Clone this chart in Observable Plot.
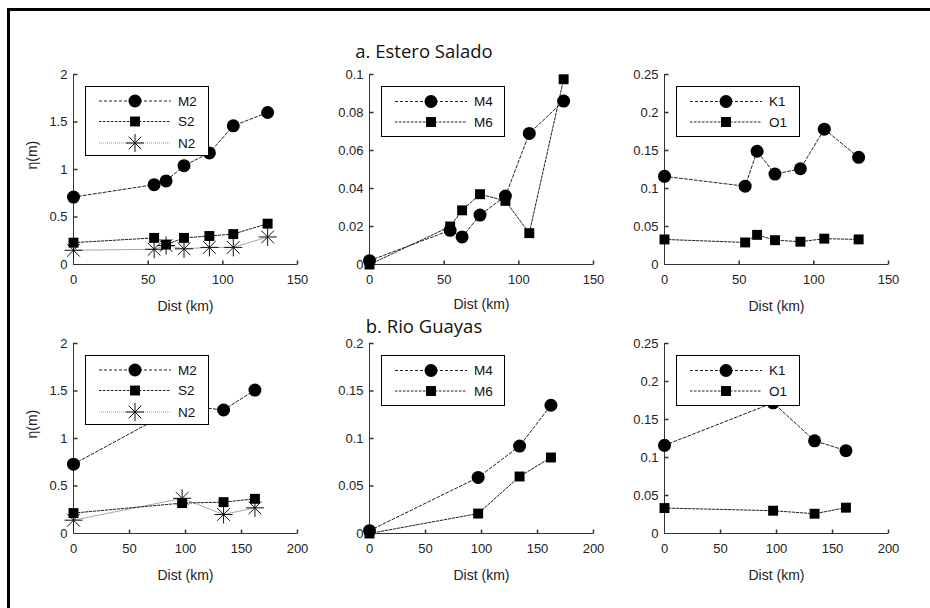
<!DOCTYPE html>
<html><head><meta charset="utf-8">
<script src="https://cdn.jsdelivr.net/npm/d3@7"></script>
<script src="https://cdn.jsdelivr.net/npm/@observablehq/plot@0.6"></script>
<style>
html,body{margin:0;padding:0;background:#fff;overflow:hidden;}
#page{position:relative;width:930px;height:608px;overflow:hidden;background:#fff;font-family:"Liberation Sans",Arial,sans-serif;}
#frame{position:absolute;left:7px;top:8px;width:1000px;height:1000px;border-top:3px solid #000;border-left:3px solid #000;}
.panel{position:absolute;}
.panel svg{position:absolute;left:0;top:0;overflow:visible;}
</style></head><body><div id="page"><div id="frame"></div></div>
<script>
// ---- data ----
const distA = [0, 54, 62, 74, 91, 107, 130];
const distB = [0, 97, 134, 162];
const M2a = [0.71, 0.84, 0.88, 1.04, 1.175, 1.46, 1.60];
const S2a = [0.23, 0.28, 0.21, 0.28, 0.30, 0.32, 0.43];
const N2a = [0.15, 0.16, 0.20, 0.165, 0.18, 0.18, 0.29];
const M4a = [0.002, 0.018, 0.0145, 0.026, 0.036, 0.069, 0.086];
const M6a = [0, 0.020, 0.0285, 0.037, 0.0335, 0.0165, 0.0975];
const K1a = [0.116, 0.103, 0.149, 0.119, 0.126, 0.178, 0.141];
const O1a = [0.033, 0.029, 0.039, 0.032, 0.030, 0.034, 0.033];
const M2b = [0.73, 1.35, 1.30, 1.51];
const S2b = [0.215, 0.32, 0.33, 0.365];
const N2b = [0.14, 0.37, 0.20, 0.27];
const M4b = [0.003, 0.059, 0.092, 0.135];
const M6b = [0, 0.021, 0.060, 0.080];
const K1b = [0.116, 0.172, 0.122, 0.109];
const O1b = [0.0335, 0.030, 0.026, 0.034];
const xTicksA = [0, 50, 100, 150];
const xTicksB = [0, 50, 100, 150, 200];
const yTicksSemi = [0, 0.5, 1, 1.5, 2];
const yTicksOverA = [0, 0.02, 0.04, 0.06, 0.08, 0.1];
const yTicksOverB = [0, 0.05, 0.1, 0.15, 0.2];
const yTicksDiurnal = [0, 0.05, 0.1, 0.15, 0.2, 0.25];
const titles = ["a. Estero Salado", "b. Rio Guayas"];
const xLabel = "Dist (km)";
const yLabel = "η(m)";

// ---- symbols ----
const star = {draw(ctx, size){ const r = Math.sqrt(size/Math.PI); const d = r*Math.SQRT1_2;
  ctx.moveTo(-r,0);ctx.lineTo(r,0);ctx.moveTo(0,-r);ctx.lineTo(0,r);
  ctx.moveTo(-d,-d);ctx.lineTo(d,d);ctx.moveTo(-d,d);ctx.lineTo(d,-d);}};
const tickUp = {draw(ctx){ctx.moveTo(0,0);ctx.lineTo(0,-4);}};
const tickRight = {draw(ctx){ctx.moveTo(0,0);ctx.lineTo(4,0);}};

const kinds = {
  circle: {symbol: "circle", r: 6.5, fill: "#000", stroke: "none", line: "#222", dash: "3,2"},
  square: {symbol: "square", r: 5.6, fill: "#000", stroke: "none", line: "#222", dash: "2.5,1.5"},
  star:   {symbol: star, r: 9, fill: "none", stroke: "#111", line: "#999", dash: "1,1"}
};

const panels = [
  {left:73, top:74, xMax:150, xTicks:xTicksA, yMax:2, yTicks:yTicksSemi, x:distA, ylabel:true,
   series:[["M2",M2a,"circle"],["S2",S2a,"square"],["N2",N2a,"star"]]},
  {left:369, top:74, xMax:150, xTicks:xTicksA, yMax:0.1, yTicks:yTicksOverA, x:distA, labelDy:40,
   series:[["M4",M4a,"circle"],["M6",M6a,"square"]]},
  {left:664, top:74, xMax:150, xTicks:xTicksA, yMax:0.25, yTicks:yTicksDiurnal, x:distA,
   series:[["K1",K1a,"circle"],["O1",O1a,"square"]]},
  {left:73, top:343, xMax:200, xTicks:xTicksB, yMax:2, yTicks:yTicksSemi, x:distB, ylabel:true,
   series:[["M2",M2b,"circle"],["S2",S2b,"square"],["N2",N2b,"star"]]},
  {left:369, top:343, xMax:200, xTicks:xTicksB, yMax:0.2, yTicks:yTicksOverB, x:distB,
   series:[["M4",M4b,"circle"],["M6",M6b,"square"]]},
  {left:664, top:343, xMax:200, xTicks:xTicksB, yMax:0.25, yTicks:yTicksDiurnal, x:distB,
   series:[["K1",K1b,"circle"],["O1",O1b,"square"]]}
];

const ml=70, mr=20, mt=20, mb=50, fw=224, fh=190;
const page = document.getElementById("page");

for (const p of panels) {
  const marks = [
    Plot.ruleX([0], {stroke:"#333", strokeWidth:1}),
    Plot.ruleY([0], {stroke:"#333", strokeWidth:1}),
    Plot.dot(p.xTicks.slice(1), {x:d=>d, frameAnchor:"bottom", symbol:tickUp, stroke:"#333", fill:"none"}),
    Plot.dot(p.yTicks.slice(1), {y:d=>d, frameAnchor:"left", symbol:tickRight, stroke:"#333", fill:"none"}),
    Plot.axisX({ticks:p.xTicks, tickSize:0, tickPadding:10, tickFormat:d=>String(d), label:null, fontSize:13}),
    Plot.axisY({ticks:p.yTicks, tickSize:0, tickPadding:6, tickFormat:d=>String(d), label:null, fontSize:13}),
    Plot.text([xLabel], {frameAnchor:"bottom", dy:p.labelDy || 42, text:d=>d, fontSize:14, lineAnchor:"middle"})
  ];
  if (p.ylabel) marks.push(Plot.text([yLabel], {frameAnchor:"left", dx:-41, rotate:-90, text:d=>d, fontSize:14, lineAnchor:"middle"}));
  const tables = p.series.map(([name, vals, kind]) => ({name, kind, data: p.x.map((d,i)=>({x:d, y:vals[i]}))}));
  for (const t of tables.slice().reverse()) {
    const k = kinds[t.kind];
    marks.push(Plot.line(t.data, {x:"x", y:"y", stroke:k.line, strokeWidth:1, strokeDasharray:k.dash}));
  }
  for (const t of tables.slice().reverse()) {
    const k = kinds[t.kind];
    marks.push(Plot.dot(t.data, {x:"x", y:"y", symbol:k.symbol, r:k.r, fill:k.fill, stroke:k.stroke, strokeWidth:1}));
  }
  const chart = Plot.plot({
    width: fw+ml+mr, height: fh+mt+mb,
    marginLeft: ml, marginRight: mr, marginTop: mt, marginBottom: mb,
    x: {domain:[0, p.xMax]}, y: {domain:[0, p.yMax]},
    style: {fontFamily:'"Liberation Sans", Arial, sans-serif', fontSize:"13px", color:"#222", background:"transparent", overflow:"visible"},
    marks
  });
  const wrap = document.createElement("div");
  wrap.className = "panel";
  wrap.style.left = (p.left - ml) + "px";
  wrap.style.top = (p.top - mt) + "px";
  wrap.style.width = (fw+ml+mr) + "px";
  wrap.style.height = (fh+mt+mb) + "px";
  wrap.appendChild(chart);

  // legend box
  const n = p.series.length;
  const lw = 123, lh = n === 3 ? 69 : 50;
  const rows = n === 3 ? [14.5, 35, 56.5] : [15, 35.5];
  const lg = d3.create("svg").attr("width", lw+2).attr("height", lh+2)
    .style("left", (ml+12)+"px").style("top", (mt+12)+"px");
  lg.append("rect").attr("x",0.5).attr("y",0.5).attr("width",lw).attr("height",lh)
    .attr("fill","#fff").attr("stroke","#000").attr("stroke-width",1);
  p.series.forEach(([name, vals, kind], i) => {
    const k = kinds[kind];
    const yy = rows[i] + 0.5;
    lg.append("line").attr("x1",14).attr("x2",86).attr("y1",yy).attr("y2",yy)
      .attr("stroke",k.line).attr("stroke-dasharray",k.dash).attr("stroke-width",1);
    const sym = typeof k.symbol === "string" ? (k.symbol === "circle" ? d3.symbolCircle : d3.symbolSquare) : k.symbol;
    lg.append("path").attr("transform",`translate(50,${yy})`)
      .attr("d", d3.symbol(sym, Math.PI*k.r*k.r)())
      .attr("fill",k.fill).attr("stroke",k.stroke).attr("stroke-width",1);
    lg.append("text").attr("x",93).attr("y",yy).attr("dy","0.36em")
      .attr("font-family",'"Liberation Sans", Arial, sans-serif').attr("font-size",13.5).attr("fill","#111")
      .text(name);
  });
  wrap.appendChild(lg.node());
  page.appendChild(wrap);
}

// titles
const ts = d3.create("svg").attr("width",930).attr("height",608)
  .style("position","absolute").style("left","0px").style("top","0px").style("pointer-events","none");
[[58, titles[0]], [333, titles[1]]].forEach(([y, t]) => {
  ts.append("text").attr("x",424).attr("y",y).attr("text-anchor","middle")
    .attr("font-family",'"Open Sans", sans-serif').attr("font-size",18.5).attr("fill","#111").text(t);
});
page.appendChild(ts.node());
</script></body></html>
